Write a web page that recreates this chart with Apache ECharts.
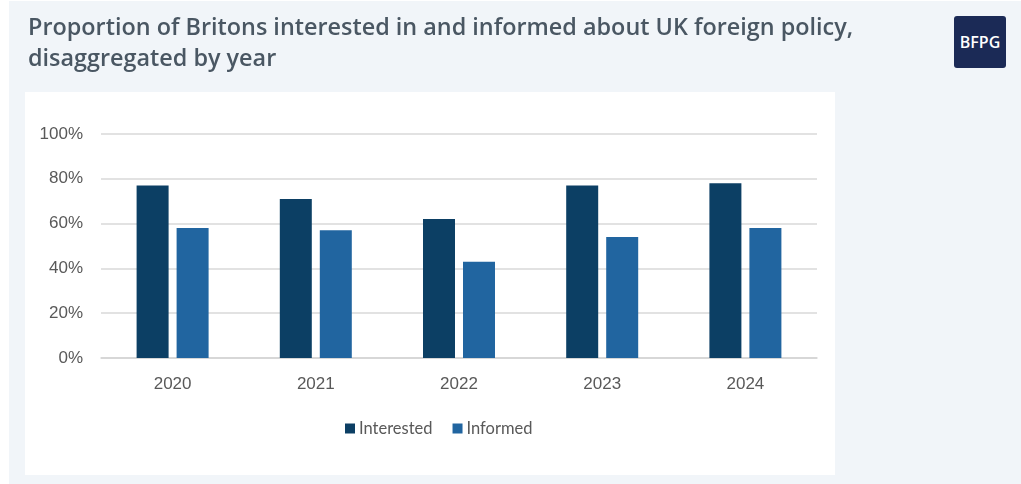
<!DOCTYPE html>
<html>
<head>
<meta charset="utf-8">
<script src="https://cdn.jsdelivr.net/npm/echarts@6/dist/echarts.min.js"></script>
<style>
  html, body { margin: 0; padding: 0; background: #ffffff; }
  #page { position: relative; width: 1021px; height: 484px; overflow: hidden; }
  #frame { position: absolute; left: 9px; top: 1px; right: 0; bottom: 0; background: #f1f5f9; }
  #panel { position: absolute; left: 25px; top: 92px; width: 810px; height: 383px; background: #ffffff; }
  #logo {
    position: absolute; left: 954px; top: 16px; width: 52px; height: 52px;
    background: #1b2a56; border-radius: 3px; color: #ffffff;
    font: 600 16px "Open Sans", sans-serif; line-height: 52px; text-align: center;
  }
  #chart { position: absolute; left: 0; top: 0; width: 1021px; height: 484px; }
</style>
</head>
<body>
<div id="page">
  <div id="frame"></div>
  <div id="panel"></div>
  <div id="logo">BFPG</div>
  <div id="chart"></div>
</div>
<script>
// Survey results by year (share of respondents, %)
const years = ['2020', '2021', '2022', '2023', '2024'];
const interested = [77, 71, 62, 77, 78];
const informed = [58, 57, 43, 54, 58];
const yTicks = [0, 20, 40, 60, 80, 100];

const chart = echarts.init(document.getElementById('chart'), null, { renderer: 'canvas' });

chart.setOption({
  backgroundColor: 'transparent',
  animation: false,
  title: {
    text: 'Proportion of Britons interested in and informed about UK foreign policy,\ndisaggregated by year',
    left: 23,
    top: 8,
    textStyle: {
      fontFamily: 'Open Sans',
      fontWeight: 600,
      fontSize: 23.4,
      lineHeight: 31,
      color: '#4a5763'
    }
  },
  legend: {
    left: 340,
    top: 415,
    itemWidth: 10,
    itemHeight: 10,
    itemGap: 20,
    icon: 'rect',
    textStyle: { fontFamily: 'Lato', fontSize: 16.5, color: '#595959', padding: [0, 0, 0, -1] },
    data: ['Interested', 'Informed']
  },
  grid: { left: 101, right: 204, top: 134, bottom: 126 },
  xAxis: {
    type: 'category',
    data: years,
    axisTick: { show: false },
    axisLine: { lineStyle: { color: '#d4d4d4', width: 1.5 } },
    axisLabel: { margin: 18, fontFamily: 'Liberation Sans', fontSize: 17, color: '#595959' }
  },
  yAxis: {
    type: 'value',
    min: yTicks[0],
    max: yTicks[yTicks.length - 1],
    interval: yTicks[1] - yTicks[0],
    axisLine: { show: false },
    axisTick: { show: false },
    axisLabel: {
      margin: 18,
      formatter: '{value}%',
      fontFamily: 'Liberation Sans',
      fontSize: 17,
      color: '#595959'
    },
    splitLine: { lineStyle: { color: '#d9d9d9', width: 1.5 } }
  },
  series: [
    {
      name: 'Interested',
      type: 'bar',
      data: interested,
      barWidth: 32,
      barGap: '25%',
      itemStyle: { color: '#0c3f64' }
    },
    {
      name: 'Informed',
      type: 'bar',
      data: informed,
      barWidth: 32,
      itemStyle: { color: '#2165a0' }
    }
  ]
});
</script>
</body>
</html>
